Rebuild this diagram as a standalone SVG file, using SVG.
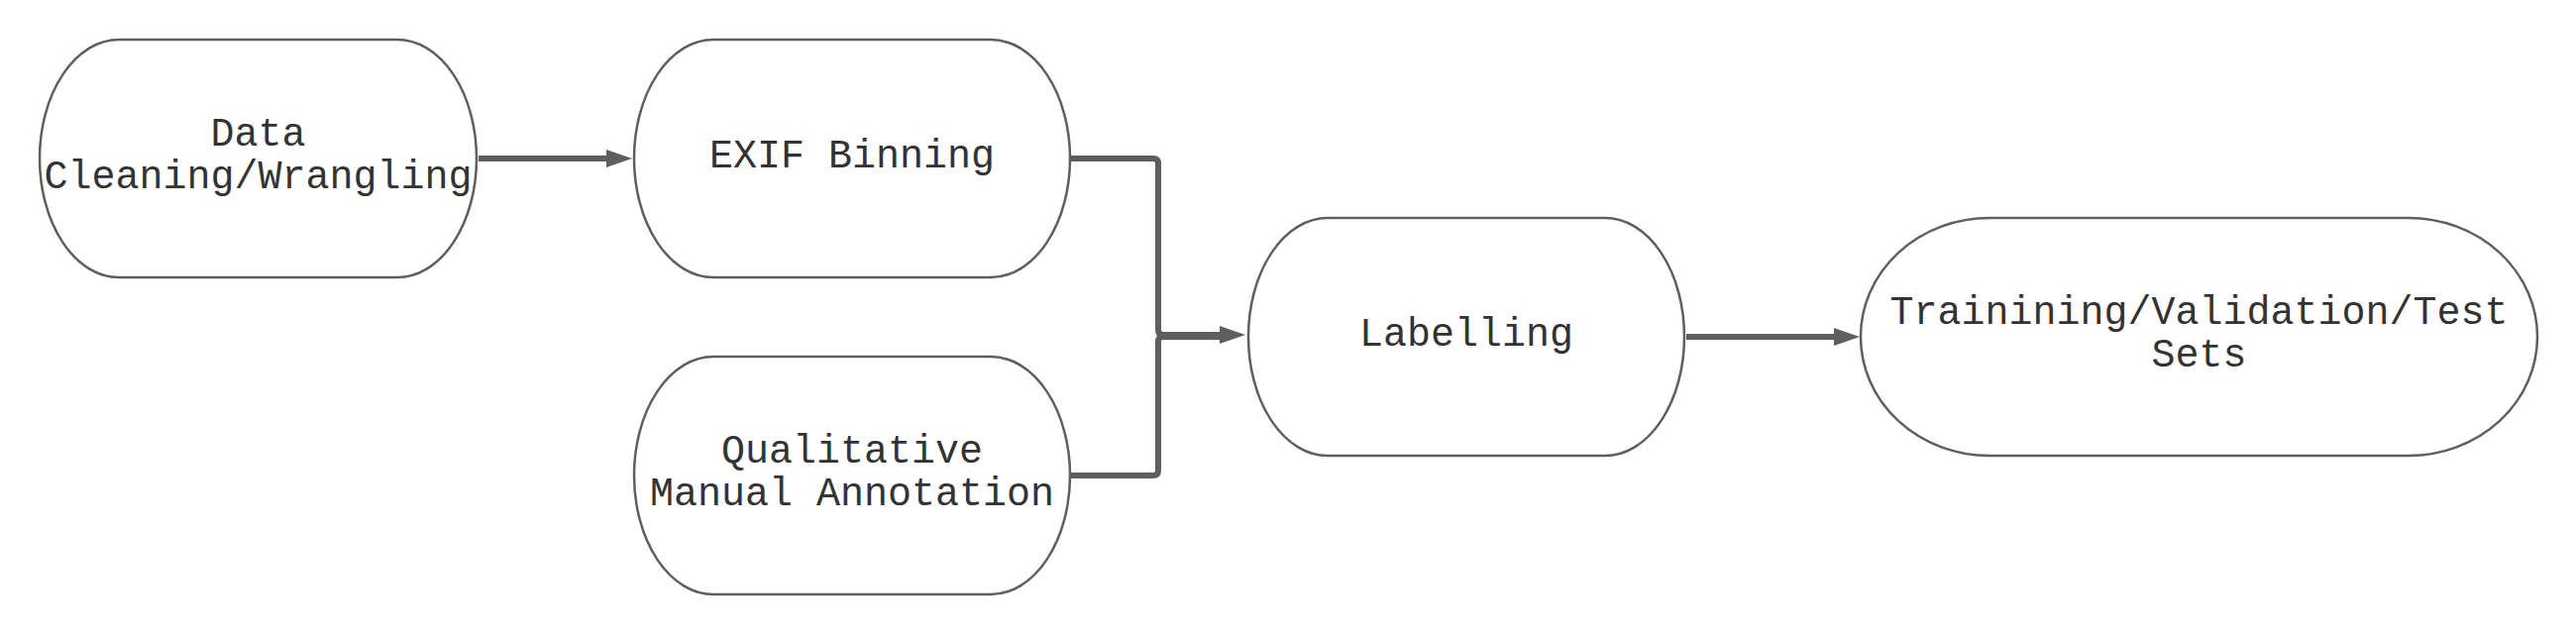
<svg xmlns="http://www.w3.org/2000/svg" width="2600" height="640" viewBox="0 0 2600 640">
<style>
.node{fill:#ffffff;stroke:#5f5f5f;stroke-width:2.5}
.lbl{font-family:"Liberation Mono","DejaVu Sans Mono",monospace;font-size:40px;fill:#333333;text-anchor:middle}
.conn{fill:none;stroke:#5e5e5e;stroke-width:6;stroke-linejoin:round}
</style>
<defs>
<marker id="arrow" markerUnits="userSpaceOnUse" markerWidth="27" markerHeight="19" refX="9" refY="9" orient="auto" viewBox="0 0 27 18">
<path d="M0,0 L26,9 L0,18 Z" fill="#5e5e5e"/>
</marker>
</defs>
<rect width="2600" height="640" fill="#ffffff"/>
<g id="connectors">
<path class="conn" d="M483,160 H621" marker-end="url(#arrow)"/>
<path class="conn" d="M1081,160 H1164 Q1169,160 1169,165 V333 Q1169,338 1174,338 H1240" marker-end="url(#arrow)"/>
<path class="conn" d="M1081,480 H1164 Q1169,480 1169,475 V345 Q1169,340 1174,340 H1240"/>
<path class="conn" d="M1702,340 H1860" marker-end="url(#arrow)"/>
</g>
<g id="node-data-cleaning">
<path class="node" d="M120,40 H401 A80,120 0 0 1 481,160 A80,120 0 0 1 401,280 H120 A80,120 0 0 1 40,160 A80,120 0 0 1 120,40 Z"/>
<text class="lbl" x="260.5" y="147">Data</text>
<text class="lbl" x="260.5" y="190">Cleaning/Wrangling</text>
</g>
<g id="node-exif">
<path class="node" d="M720,40 H1000 A80,120 0 0 1 1080,160 A80,120 0 0 1 1000,280 H720 A80,120 0 0 1 640,160 A80,120 0 0 1 720,40 Z"/>
<text class="lbl" x="860" y="169">EXIF Binning</text>
</g>
<g id="node-qualitative">
<path class="node" d="M720,360 H1000 A80,120 0 0 1 1080,480 A80,120 0 0 1 1000,600 H720 A80,120 0 0 1 640,480 A80,120 0 0 1 720,360 Z"/>
<text class="lbl" x="860" y="467">Qualitative</text>
<text class="lbl" x="860" y="510">Manual Annotation</text>
</g>
<g id="node-labelling">
<path class="node" d="M1340,220 H1620 A80,120 0 0 1 1700,340 A80,120 0 0 1 1620,460 H1340 A80,120 0 0 1 1260,340 A80,120 0 0 1 1340,220 Z"/>
<text class="lbl" x="1480" y="349">Labelling</text>
</g>
<g id="node-sets">
<path class="node" d="M2008,220 H2431 A130,120 0 0 1 2561,340 A130,120 0 0 1 2431,460 H2008 A130,120 0 0 1 1878,340 A130,120 0 0 1 2008,220 Z"/>
<text class="lbl" x="2219.5" y="327">Trainining/Validation/Test</text>
<text class="lbl" x="2219.5" y="370">Sets</text>
</g>
</svg>
